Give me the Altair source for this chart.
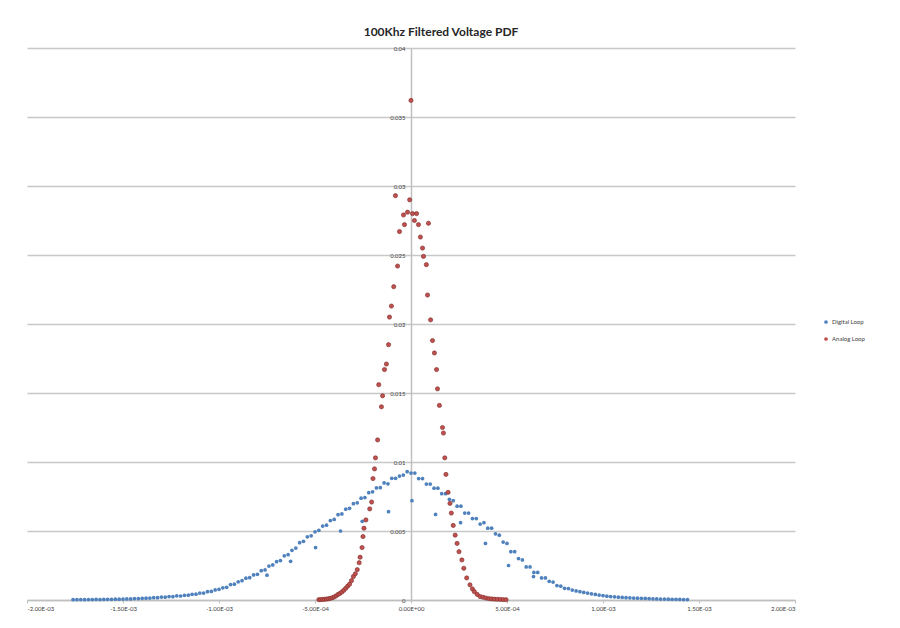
import altair as alt
import pandas as pd

# Digital loop histogram: bins start at -1.76e-3 V, 2e-5 V wide
digital_start = -1.76e-3
digital_step = 2e-5
digital_pdf = [
    0.00002, 0.00002, 0.00003, 0.00002, 0.00003, 0.00003, 0.00004, 0.00003, 0.00004, 0.00005,
    0.00005, 0.00006, 0.00006, 0.00007, 0.00008, 0.00008, 0.0001, 0.0001, 0.00012, 0.00013,
    0.00014, 0.00017, 0.00017, 0.00021, 0.0002, 0.00025, 0.00024, 0.0003, 0.00029, 0.00034,
    0.00035, 0.00041, 0.00042, 0.0005, 0.0005, 0.0006, 0.00062, 0.00073, 0.00077, 0.00088,
    0.00092, 0.00112, 0.00115, 0.00132, 0.0014, 0.00158, 0.00162, 0.00182, 0.00186, 0.00212,
    0.00218, 0.00246, 0.00254, 0.00278, 0.00286, 0.0032, 0.00328, 0.0036, 0.00376, 0.00415,
    0.00425, 0.00458, 0.00465, 0.00494, 0.00505, 0.00536, 0.00542, 0.00576, 0.00584, 0.00618,
    0.00624, 0.00658, 0.00664, 0.00698, 0.00704, 0.00738, 0.00742, 0.00778, 0.00784, 0.00812,
    0.00814, 0.00848, 0.00842, 0.00882, 0.00882, 0.00898, 0.00905, 0.0093, 0.0092, 0.0092,
    0.0088, 0.0088, 0.0084, 0.0084, 0.0081, 0.0081, 0.0077, 0.0077, 0.0073, 0.0072,
    0.0068, 0.0068, 0.0063, 0.0063, 0.0059, 0.0059, 0.0055, 0.0056, 0.0052, 0.0052,
    0.0048, 0.0047, 0.0042, 0.0041, 0.0035, 0.0035, 0.0030, 0.0029, 0.0024, 0.0024,
    0.0020, 0.0020, 0.0016, 0.0016, 0.00135, 0.0013, 0.00105, 0.001, 0.00085, 0.00083,
    0.00072, 0.00066, 0.0006, 0.00055, 0.0005, 0.00045, 0.0004, 0.00036, 0.00032, 0.00028,
    0.00025, 0.00023, 0.0002, 0.00019, 0.00017, 0.00016, 0.00014, 0.00013, 0.00012, 0.00011,
    0.0001, 0.00009, 0.00008, 0.00007, 0.00007, 0.00006, 0.00005, 0.00005, 0.00004, 0.00003,
    0.00003,
]
# the odd low points under the digital curve
digital_low_v = [-7.5e-4, -6.27e-4, -4.97e-4, -3.67e-4, -2.54e-4, -1.17e-4,
                 0.05e-4, 1.28e-4, 2.58e-4, 3.88e-4, 5.08e-4, 6.38e-4]
digital_low_pdf = [0.0018, 0.0028, 0.0038, 0.0050, 0.0057, 0.0064,
                   0.0072, 0.0062, 0.0056, 0.0041, 0.0025, 0.0017]

analog_v = [
    -4.8e-4, -4.7e-4, -4.6e-4, -4.5e-4, -4.4e-4, -4.3e-4, -4.2e-4, -4.1e-4, -4.0e-4, -3.9e-4,
    -3.8e-4, -3.7e-4, -3.6e-4, -3.5e-4, -3.4e-4, -3.3e-4, -3.2e-4, -3.1e-4, -3.0e-4, -2.9e-4,
    -2.8e-4, -2.7e-4, -2.65e-4, -2.55e-4, -2.5e-4, -2.45e-4, -2.35e-4, -2.15e-4, -2.05e-4, -1.98e-4,
    -1.9e-4, -1.85e-4, -1.74e-4, -1.68e-4, -1.54e-4, -1.48e-4, -1.38e-4, -1.28e-4, -1.17e-4, -1.12e-4,
    -1.02e-4, -0.9e-4, -0.81e-4, -0.7e-4, -0.6e-4, -0.39e-4, -0.34e-4, -0.18e-4, -0.07e-4, 0.0,
    0.08e-4, 0.18e-4, 0.29e-4, 0.39e-4, 0.49e-4, 0.6e-4, 0.65e-4, 0.8e-4, 0.86e-4, 0.91e-4,
    1.02e-4, 1.12e-4, 1.22e-4, 1.33e-4, 1.38e-4, 1.48e-4, 1.64e-4, 1.69e-4, 1.76e-4, 1.82e-4,
    1.93e-4, 2.03e-4, 2.1e-4, 2.2e-4, 2.3e-4, 2.4e-4, 2.5e-4, 2.65e-4, 2.75e-4, 2.9e-4,
    3.07e-4, 3.2e-4, 3.3e-4, 3.45e-4, 3.6e-4, 3.75e-4, 3.9e-4, 4.05e-4, 4.2e-4, 4.35e-4,
    4.5e-4, 4.65e-4, 4.8e-4, 4.95e-4,
]
analog_pdf = [
    0.00002, 0.00003, 0.00004, 0.00005, 0.00007, 0.00009, 0.00012, 0.00016, 0.00022, 0.0003,
    0.0004, 0.00048, 0.00058, 0.0007, 0.00085, 0.001, 0.00115, 0.0014, 0.0017, 0.0019,
    0.0022, 0.0027, 0.0031, 0.0038, 0.0046, 0.0052, 0.0058, 0.0066, 0.0071, 0.0088,
    0.0095, 0.0103, 0.0116, 0.0156, 0.0140, 0.0148, 0.0167, 0.0171, 0.0185, 0.0205,
    0.0213, 0.0227, 0.0293, 0.0242, 0.0267, 0.0279, 0.0272, 0.0281, 0.0290, 0.0362,
    0.0280, 0.0275, 0.0280, 0.0272, 0.0263, 0.0255, 0.0249, 0.0243, 0.0221, 0.0273,
    0.0203, 0.0188, 0.0179, 0.0167, 0.0153, 0.0141, 0.0125, 0.0121, 0.0103, 0.0091,
    0.0078, 0.0070, 0.0063, 0.0054, 0.0047, 0.0041, 0.0035, 0.0029, 0.0023, 0.0016,
    0.0011, 0.0008, 0.0006, 0.0004, 0.00025, 0.0002, 0.00014, 0.0001, 0.00008, 0.00006,
    0.00005, 0.00004, 0.00003, 0.00002,
]

x_ticks = [-2e-3, -1.5e-3, -1e-3, -5e-4, 0, 5e-4, 1e-3, 1.5e-3, 2e-3]
y_ticks = [0, 0.005, 0.01, 0.015, 0.02, 0.025, 0.03, 0.035, 0.04]
series = ["Digital Loop", "Analog Loop"]

digital = pd.DataFrame({
    "v": [round(digital_start + i * digital_step, 7) for i in range(len(digital_pdf))] + digital_low_v,
    "pdf": digital_pdf + digital_low_pdf,
    "series": series[0],
})
analog = pd.DataFrame({"v": analog_v, "pdf": analog_pdf, "series": series[1]})

FONT = "Lato"
excel_sci = (
    "replace(replace(replace(format(datum.value, '.2e'), '\u2212', '-'), 'e-', 'E-0'), 'e+', 'E+0')"
)

x = alt.X(
    "v:Q",
    scale=alt.Scale(domain=[-2e-3, 2e-3], nice=False, zero=False),
    axis=alt.Axis(title=None, values=x_ticks, labelExpr=excel_sci, grid=False,
                  tickSize=3, labelPadding=2),
)
y = alt.Y(
    "pdf:Q",
    scale=alt.Scale(domain=[0, 0.04], nice=False),
    axis=alt.Axis(title=None, values=y_ticks, format="~g", offset=-384, grid=True,
                  ticks=False, labelPadding=6),
)
color = alt.Color(
    "series:N",
    scale=alt.Scale(domain=series, range=["#4F81BD", "#C0504D"]),
    legend=alt.Legend(title=None, orient="none", legendX=796, legendY=271,
                      symbolType="circle", symbolSize=14, labelFontSize=6,
                      labelFont=FONT, labelColor="#404040", rowPadding=11, labelOffset=3),
)

blue = alt.Chart(digital).mark_circle(size=14, opacity=1).encode(x=x, y=y, color=color)
red = alt.Chart(analog).mark_circle(size=18, opacity=1, stroke="#7a2a28", strokeWidth=0.6).encode(
    x=x, y=y, color=color
)

chart = (
    alt.layer(blue, red)
    .properties(
        width=768,
        height=552,
        autosize=alt.AutoSizeParams(type="none"),
        padding={"left": 19, "top": 40, "right": 90, "bottom": 15},
        title=alt.TitleParams("100Khz Filtered Voltage PDF", font=FONT, fontSize=12,
                              fontWeight="bold", color="#262626", anchor="middle",
                              dx=30, offset=6),
    )
    .configure_view(stroke=None)
    .configure_axis(
        labelFont=FONT, labelFontSize=6, labelColor="#404040",
        domainColor="#bfbfbf", domainWidth=1.5, tickColor="#bfbfbf",
        gridColor="#c8c8c8", gridWidth=1.5,
    )
)

chart.save("out.html", embed_options={"renderer": "svg", "actions": False})
